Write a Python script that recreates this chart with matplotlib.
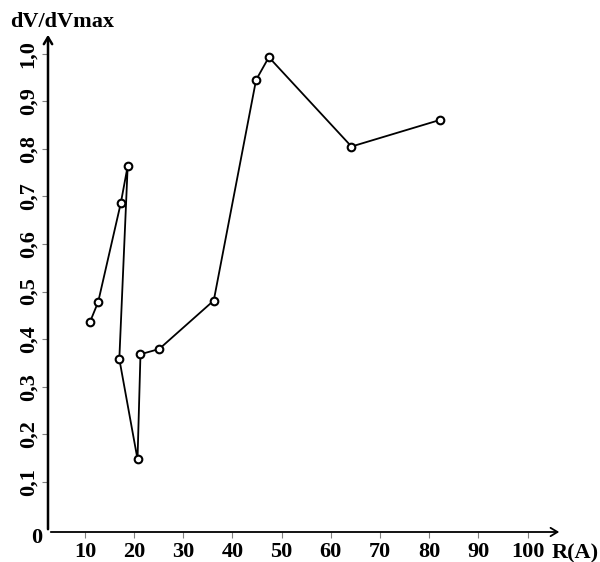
import numpy as np
import matplotlib
matplotlib.use('Agg')
import matplotlib.pyplot as plt

# Data (R in angstrom, normalized dV/dVmax)
r_vals = [11.0, 12.7, 17.3, 18.7, 17.0, 20.7, 21.3, 25.1, 36.2, 44.8, 47.4, 64.2, 82.2]
dv_vals = [0.435, 0.478, 0.686, 0.764, 0.358, 0.147, 0.368, 0.379, 0.481, 0.945, 0.993, 0.805, 0.861]

x_ticks = [10, 20, 30, 40, 50, 60, 70, 80, 90, 100]
y_ticks = [0.1, 0.2, 0.3, 0.4, 0.5, 0.6, 0.7, 0.8, 0.9, 1.0]
y_labels = ['0,1', '0,2', '0,3', '0,4', '0,5', '0,6', '0,7', '0,8', '0,9', '1,0']

font = dict(family='Liberation Serif', fontweight='bold', fontsize=16)

W, H = 600, 562
fig = plt.figure(figsize=(W / 100, H / 100), dpi=100)
ax = fig.add_axes([48 / W, 30 / H, 514 / W, 500 / H])

ax.plot(r_vals, dv_vals, color='black', lw=1.3, marker='o', ms=5.5,
        mfc='white', mec='black', mew=1.5)

ax.set_xlim(2.5, 107)
ax.set_ylim(-0.006, 1.046)

for s in ax.spines.values():
    s.set_visible(False)

# axis lines with open arrow heads
ax.annotate('', xy=(1, 0), xytext=(0, 0), xycoords='axes fraction',
            arrowprops=dict(arrowstyle='->,head_length=0.5,head_width=0.3', lw=1.3, color='black'))
ax.annotate('', xy=(0, 1), xytext=(0, 0), xycoords='axes fraction',
            arrowprops=dict(arrowstyle='->,head_length=0.5,head_width=0.3', lw=1.8, color='black'))

ax.set_xticks(x_ticks)
ax.set_xticklabels([str(t) for t in x_ticks], **font)
ax.set_yticks(y_ticks)
ax.set_yticklabels(y_labels, rotation=90, va='center', **font)
ax.tick_params(direction='out', length=4, width=0.8, color='gray', pad=3)

fig.text(10 / W, 1 - 22 / H, 'dV/dVmax', ha='left', va='center', **font)
fig.text(552 / W, 1 - 553 / H, 'R(A)', ha='left', va='center', **font)
fig.text(37 / W, 1 - 538 / H, '0', ha='center', va='center', **font)

fig.savefig('out.png', dpi=100)
